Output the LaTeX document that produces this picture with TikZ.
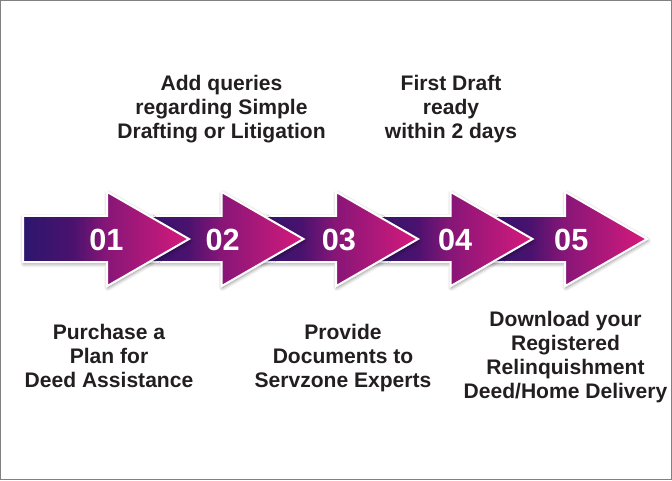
\documentclass[tikz,border=0pt]{standalone}
\usepackage{fontspec}
\setmainfont{Liberation Sans}
\usetikzlibrary{shadows.blur}

\definecolor{stepdark}{RGB}{44,22,110}
\definecolor{stepdeep}{RGB}{74,18,110}
\definecolor{stepmid}{RGB}{134,22,119}
\definecolor{steptip}{RGB}{214,26,124}
\definecolor{stepink}{RGB}{35,31,32}
\pgfdeclarehorizontalshading{stepfade}{100bp}{color(0bp)=(stepdark); color(25bp)=(stepdark); color(40bp)=(stepdeep); color(50bp)=(stepmid); color(75bp)=(steptip); color(100bp)=(steptip)}

\tikzset{every picture/.style={line width=0.75pt}}
\tikzset{
  steparrow/.style={draw=white, line width=1.5pt, shading=stepfade, blur shadow={shadow xshift=0.6pt, shadow yshift=-1.2pt, shadow blur steps=6, shadow blur radius=2.8pt, shadow opacity=45}},
  stepnum/.style={text=white, font=\fontsize{23}{27}\selectfont\bfseries, anchor=base, inner sep=0pt},
  steptext/.style={text=stepink, font=\fontsize{15.8}{18}\selectfont\bfseries, align=center, anchor=base, inner sep=0pt}
}

\begin{document}
\begin{tikzpicture}[x=0.75pt,y=0.75pt,yscale=-1,xscale=1]
	\useasboundingbox (0,0) rectangle (672,480);

	%Shape: Rectangle [frame]
	\draw [color={rgb, 255:red, 128; green, 128; blue, 128 }] (0.75,0.75) rectangle (671.25,479.25);

	%Shape: Arrows, last one first so that each head lies over the next shaft
	\foreach \k in {4,3,2,1,0}{
		\pgfmathsetmacro\s{23+114.5*\k}
		\draw [steparrow] (\s,215.8) -- (\s+84,215.8) -- (\s+84,191.8) -- (\s+166,239) -- (\s+84,286.2) -- (\s+84,262.2) -- (\s,262.2) -- cycle ;
	}

	% Text Node
	\foreach \k/\n in {0/01,1/02,2/03,3/04,4/05}
		\draw (106.5+116.2*\k,250.5) node [stepnum] (num\k) {\n};

	% Text Node (base = last line)
	\draw (221.5,138.3) node [steptext] (querytext) {Add queries\\regarding Simple\\Drafting or Litigation};
	% Text Node
	\draw (451,138.3) node [steptext] (drafttext) {First Draft\\ready\\within 2 days};
	% Text Node
	\draw (109,387.7) node [steptext] (plantext) {Purchase a\\Plan for\\Deed Assistance};
	% Text Node
	\draw (343,387.7) node [steptext] (doctext) {Provide\\Documents to\\Servzone Experts};
	% Text Node
	\draw (565.5,398.3) node [steptext] (deedtext) {Download your\\Registered\\Relinquishment\\Deed/Home Delivery};

\end{tikzpicture}
\end{document}
